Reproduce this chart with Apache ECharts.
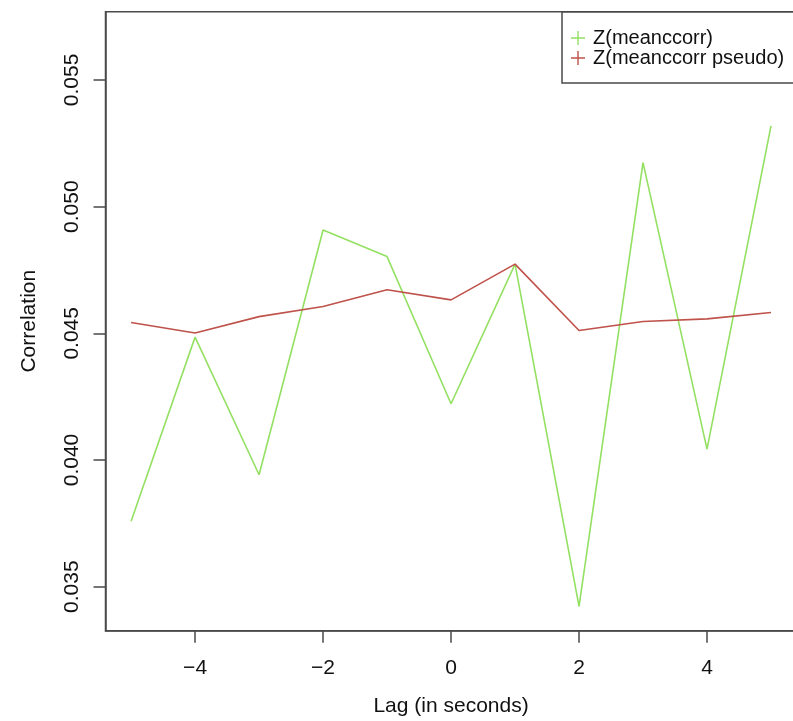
<!DOCTYPE html>
<html>
<head>
<meta charset="utf-8">
<script src="https://cdn.jsdelivr.net/npm/echarts@6/dist/echarts.min.js"></script>
<style>
html,body{margin:0;padding:0;background:#fff;}
#chart{width:793px;height:721px;}
</style>
</head>
<body>
<div id="chart"></div>
<script>
const lags = [-5, -4, -3, -2, -1, 0, 1, 2, 3, 4, 5];
const meanccorr = [0.03758, 0.04485, 0.03942, 0.04908, 0.04803, 0.04222, 0.04773, 0.03422, 0.05174, 0.04043, 0.05319];
const meanccorrPseudo = [0.04543, 0.04501, 0.04566, 0.04606, 0.04672, 0.04632, 0.04773, 0.04511, 0.04547, 0.04557, 0.04582];
const xTicks = [-4, -2, 0, 2, 4];
const yTicks = [0.035, 0.040, 0.045, 0.050, 0.055];
const seriesNames = ['Z(meanccorr)', 'Z(meanccorr pseudo)'];

const axisColor = '#4a4a4a';
const font = 'Liberation Sans, Arial, sans-serif';
const plusIcon = 'path://M6.3,0h1.4v14h-1.4z M0,6.3h14v1.4h-14z';

const chart = echarts.init(document.getElementById('chart'));
chart.setOption({
  animation: false,
  backgroundColor: '#fff',
  grid: {
    left: 105.5, top: 11.7, right: -3.6, bottom: 90.3,
    show: true, borderColor: axisColor, borderWidth: 1.5,
    containLabel: false, outerBoundsMode: 'none'
  },
  legend: {
    orient: 'vertical', left: 562, top: 12, align: 'left',
    padding: [16, 40, 15, 9],
    itemWidth: 14, itemHeight: 14, itemGap: 0,
    borderColor: axisColor, borderWidth: 1.5, backgroundColor: '#fff',
    icon: plusIcon,
    textStyle: { fontFamily: font, fontSize: 20, lineHeight: 20, color: '#111', padding: [0,0,0,3] },
    data: seriesNames
  },
  xAxis: {
    type: 'value', min: -5.4, max: 5.4,
    name: 'Lag (in seconds)', nameLocation: 'middle', nameGap: 65,
    nameTextStyle: { fontFamily: font, fontSize: 21, color: '#111' },
    axisLine: { show: true, onZero: false, lineStyle: { color: axisColor, width: 1.5 } },
    axisTick: { show: true, inside: false, length: 12, customValues: xTicks, lineStyle: { color: axisColor, width: 1.5 } },
    axisLabel: { customValues: xTicks, margin: 27, fontFamily: font, fontSize: 21, color: '#111',
      formatter: v => (v < 0 ? '\u2212' + Math.abs(v) : String(v)) },
    splitLine: { show: false }
  },
  yAxis: {
    type: 'value', min: 0.033264, max: 0.057694,
    name: 'Correlation', nameLocation: 'middle', nameGap: 66, nameRotate: 90,
    nameTextStyle: { fontFamily: font, fontSize: 21, color: '#111' },
    axisLine: { show: true, onZero: false, lineStyle: { color: axisColor, width: 1.5 } },
    axisTick: { show: true, inside: false, length: 12, customValues: yTicks, lineStyle: { color: axisColor, width: 1.5 } },
    axisLabel: { customValues: yTicks, rotate: 90, margin: 23, fontFamily: font, fontSize: 21, color: '#111',
      formatter: v => v.toFixed(3) },
    splitLine: { show: false }
  },
  series: [
    {
      name: seriesNames[0], type: 'line', showSymbol: false, symbol: 'none',
      data: lags.map((x, i) => [x, meanccorr[i]]),
      lineStyle: { color: '#94e062', width: 1.6 },
      itemStyle: { color: '#94e062' }
    },
    {
      name: seriesNames[1], type: 'line', showSymbol: false, symbol: 'none',
      data: lags.map((x, i) => [x, meanccorrPseudo[i]]),
      lineStyle: { color: '#bf524a', width: 1.6 },
      itemStyle: { color: '#bf524a' }
    }
  ]
});
</script>
</body>
</html>
